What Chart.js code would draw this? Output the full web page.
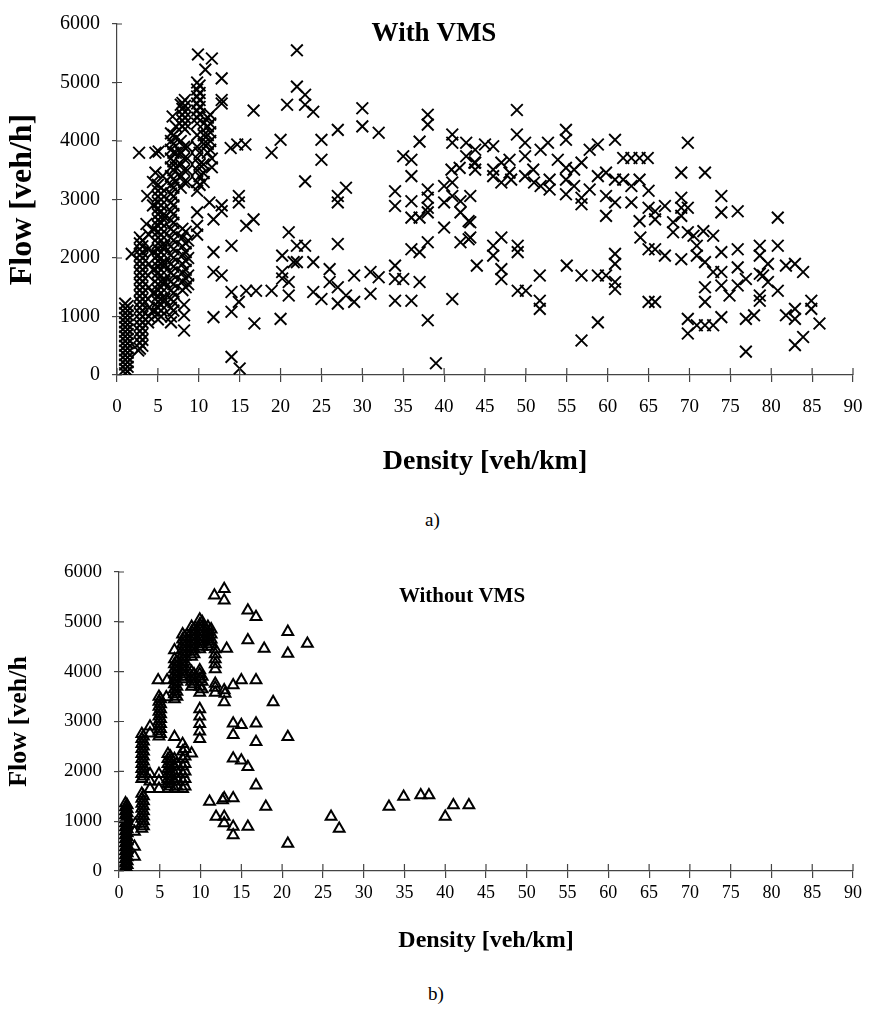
<!DOCTYPE html>
<html>
<head>
<meta charset="utf-8">
<script src="https://cdn.jsdelivr.net/npm/chart.js@4/dist/chart.umd.min.js"></script>
<style>
  body { margin: 0; background: #fff; }
  .wrap { position: absolute; left: 0; width: 870px; }
  .cap { position: absolute; font: 19px "Liberation Serif", serif; color: #000; }
</style>
</head>
<body>
<div class="wrap" style="top:0"><canvas id="chartA" width="870" height="480"></canvas></div>
<div class="cap" style="left:425px; top:509px;">a)</div>
<div class="wrap" style="top:540px"><canvas id="chartB" width="870" height="420"></canvas></div>
<div class="cap" style="left:428px; top:983px;">b)</div>
<script>
// density [veh/km], flow [veh/h] pairs
const withVmsLow = [
  [1,30],[1,100],[1,180],[1,260],[1,340],[1,420],[1,500],[1,580],[1,660],[1,740],[1,820],[1,900],[1,980],[1,1060],[1,1140],[1,1220],
  [1.8,2070],[2.6,420],
  [2.8,450],[2.8,550],[2.8,650],[2.8,750],[2.8,850],[2.8,950],[2.8,1050],[2.8,1150],[2.8,1250],[2.8,1350],[2.8,1450],[2.8,1550],
  [2.8,1650],[2.8,1750],[2.8,1850],[2.8,1950],[2.8,2050],[2.8,2150],[2.8,2250],[2.8,2350],[2.7,3800],
  [3.8,900],[3.9,1000],[3.9,1150],[3.8,1300],[3.9,1500],[3.8,1700],[3.9,1900],[3.8,2150],[3.9,2400],[3.6,2580],[3.7,3060],
  [4.7,3800],[4.7,3460],[5.1,3820],
  [5,950],[5,1050],[5,1150],[5,1250],[5,1350],[5,1450],[5,1550],[5,1650],[5,1750],[5,1850],[5,1950],[5,2050],
  [5,2150],[5,2250],[5,2350],[5,2450],[5,2550],[5,2650],[5,2750],[5,2850],[5,2950],[5,3050],[5,3150],[5,3250],
  [5.8,1300],[5.8,1600],[5.8,1900],[5.8,2200],[5.8,2700],[5.6,3400],
  [6.6,900],[6.6,1000],[6.6,1150],[6.6,1300],[6.6,1450],[6.6,1600],[6.6,1750],[6.6,1900],[6.6,2050],[6.6,2200],[6.6,2350],[6.6,2500],
  [6.6,2650],[6.6,2800],[6.6,2950],[6.6,3100],[6.6,3250],[6.6,3400],[6.6,3550],[6.6,3700],[6.6,3850],[6.6,4000],[6.6,4130],[6.8,4420],
  [7.2,3300],[7.2,3550],[7.2,3800],[7.2,4050],[7.2,4250],
  [7.8,4620],[8.3,4700],[8.3,4600],[8.3,4500],[8.3,4400],[8.3,4300],[8.3,4200],
  [7.8,4000],[7.8,3800],[7.8,3600],[7.8,3400],[7.8,3200],[8.6,3900],[8.6,3700],[8.6,3500],[8.6,3300],
  [8,2500],[8,2350],[8,2200],[8,2050],[8,1900],[8,1750],[8,1600],[8,1450],[8.7,2300],[8.7,2000],[8.7,1700],[8.7,1550],
  [8.2,1200],[8.2,1020],[8.2,760],
  [9.9,5480],[9.8,5000],[9.8,4880],[9.8,4760],[9.8,4640],[9.8,4520],[9.8,4400],[9.8,4300],[9.8,4100],[9.8,3900],[9.8,3700],
  [9.8,3500],[9.8,3300],[9.8,3150],[9.8,2780],[9.8,2550],[9.8,2400],
  [10.8,5220],[10.6,4300],[10.6,4100],[10.6,3950],[10.6,3600],[10.6,3450],[10.6,3300],
  [11.6,5410],[11.4,4450],[11.4,4300],[11.4,4150],[11.4,4000],[11.4,3850],[11.6,3700],[11.6,3550],
  [11.3,2950],[11.8,2660],[11.8,2100],[11.8,1760],[11.8,990],
  [12.8,5070],[12.8,4700],[12.8,4640],[12.8,2900],[12.8,2800],[12.8,1700]
];
const withVmsFill = [
  [1.3,60],[1.3,140],[1.3,220],[1.3,300],[1.3,380],[1.3,460],[1.3,540],[1.3,620],[1.3,700],[1.3,780],[1.3,860],[1.3,940],
  [1.3,1020],[1.3,1100],[1.3,1180],
  [3.1,500],[3.1,600],[3.1,700],[3.1,800],[3.1,900],[3.1,1000],[3.1,1100],[3.1,1200],[3.1,1300],[3.1,1400],[3.1,1500],
  [3.1,1600],[3.1,1700],[3.1,1800],[3.1,1900],[3.1,2000],[3.1,2100],[3.1,2200],[3.1,2300],
  [4.4,1100],[4.4,1400],[4.4,1800],[4.4,2100],[4.4,2500],[4.4,2900],[4.4,3300],
  [5.4,1000],[5.4,1100],[5.4,1200],[5.4,1300],[5.4,1400],[5.4,1500],[5.4,1600],[5.4,1700],[5.4,1800],[5.4,1900],[5.4,2000],
  [5.4,2100],[5.4,2200],[5.4,2300],[5.4,2400],[5.4,2500],[5.4,2600],[5.4,2700],[5.4,2800],[5.4,2900],[5.4,3000],[5.4,3100],[5.4,3200],
  [6.9,1100],[6.9,1250],[6.9,1400],[6.9,1550],[6.9,1700],[6.9,1850],[6.9,2000],[6.9,2150],[6.9,2300],[6.9,2450],[6.9,2600],
  [6.9,2750],[6.9,2900],[6.9,3050],[6.9,3200],[6.9,3350],[6.9,3500],[6.9,3650],[6.9,3800],[6.9,3950],[6.9,4100],
  [8,4650],[8,4550],[8,4450],[8,4350],[8,4250],[8.2,3900],[8.2,3700],[8.2,3500],[8.2,3300],
  [8.4,2450],[8.4,2250],[8.4,2100],[8.4,1950],[8.4,1800],[8.4,1650],[8.4,1500],
  [10.1,4950],[10.1,4820],[10.1,4700],[10.1,4580],[10.1,4460],[10.1,3800],[10.1,3600],[10.1,3400],[10.1,3250],
  [11.1,4400],[11.1,4250],[11.1,4100],[11.1,3950],[11.1,3800]
];
const withVmsMid = [
  [13.9,3880],[14.7,3940],[15.7,3940],[14.9,3060],[14.9,2950],[15.8,2550],[16.7,2660],[16.7,4520],[14,2210],[14,1420],
  [14,1080],[14.9,1250],[15.8,1440],[17,1440],[16.8,880],[14,310],[15,110],
  [18.9,3800],[20,4020],[20.8,4620],[22,5550],[22,4930],[21,2440],[20.2,2040],[20.2,1760],[21,1590],[20.2,1650],
  [21,1360],[18.9,1440],[20,960],[21.6,1930],
  [23,4790],[23,4620],[24,4500],[25,4020],[25,3680],[23,3310],[27,4190],[30,4560],[30,4250],[32,4140],[27,3060],[27,2950],[28,3200],
  [22,2210],[23,2210],[22,1930],[27,2240],[24,1930],[26,1810],[26,1590],[27,1500],[25,1300],[24,1420],[27,1220],[28,1360],
  [29,1250],[29,1700],[31,1760],[32,1670],[31,1390],[34,1870],[34,1640],[35,1640],[34,1270],[36,1270],[37,1590],[38,935],
  [39,200],[41,1300],
  [34,3140],[34,2890],[36,2970],[36,2690],[37,2690],[38,3170],[38,3030],[38,2860],[38,2780],
  [35,3740],[36,3680],[36,3400],[37,3990],[38,4450],[38,4280],
  [36,2150],[37,2100],[38,2270],[40,2520],
  [40,3230],[41,3290],[41,3060],[40,2950],[42,2970],[42,2780],[43,2630],[42,2270],[43,2320],
  [41,4110],[41,3970],[42.7,3970],[42.7,3740],[43.7,3630],[40.9,3510],[41.9,3540]
];
const withVmsHigh = [
  [43.2,3060],[43.2,2610],[43.2,2350],[44,1870],
  [43.8,3850],[45,3940],[46,3910],[43.8,3630],[43.8,3510],[46,3510],[47,3290],[47,3630],[48,3680],[48,3460],[48.2,3340],[46,3400],
  [48.9,4530],[48.9,4110],[49.9,3970],[49.9,3740],[49.9,3400],[50.9,3510],[51,3290],[51.8,3850],[51.8,3230],[52.7,3970],
  [52.9,3340],[52.9,3170],[53.9,3680],[54.9,4190],[54.9,4020],[54.9,3540],[54.9,3340],[54.9,3090],[55.9,3510],[55.9,3230],
  [56.8,3630],[56.8,3030],[56.8,2920],[57.8,3850],[57.8,3170],[58.8,3940],[58.8,3400],[59.8,3460],[59.8,3060],[59.8,2720],
  [60.9,4020],[60.9,3340],[60.9,2950],[61.9,3710],[61.9,3340],[62.9,3710],[62.9,3230],[62.9,2950],[63.9,3710],[63.9,3340],
  [63.9,2630],[64.9,3710],[65,3150],[65,2860],[64,2350],[65,2150],[65,1250],
  [46,2210],[46,2040],[47,2350],[47,1810],[47,1640],[49,2210],[49,2100],[49,1440],[50,1440],[51.7,1700],[51.7,1270],[51.7,1130],
  [55,1870],[56.8,1700],[56.8,590],[58.8,1700],[58.8,900],[59.8,1700],[60.9,2070],[60.9,1900],[60.9,1590],[60.9,1470],
  [65.8,2800],[65.8,2660],[67,2890],[69,3460],[69,3030],[69,2860],[69.8,3970],[69.8,2860],[71.9,3460],[68,2610],[68,2440],
  [69,2720],[69.8,2440],[70.5,2380],[70.9,2210],[71.7,2460],[72.9,2380],[73.9,3060],[73.9,2780],[75.9,2800],
  [65.8,2150],[67,2040],[69,1980],[70.9,2040],[71.9,1930],[72.9,1760],[73.9,2100],[73.9,1760],[73.9,1530],[74.9,1360],
  [75.9,2150],[75.9,1840],[75.9,1530],[76.9,1640],[71.9,1500],[71.9,1250],[65.8,1250],
  [69.8,960],[69.8,710],[70.9,850],[71.9,850],[72.9,850],[73.9,990],[76.9,960],[76.9,400],[77.9,1020],
  [78.6,2210],[78.6,2040],[78.6,1730],[79,1700],[79.6,1900],[79.6,1590],[78.6,1360],[78.6,1270],[80.8,2690],[80.8,2210],
  [80.8,1440],[81.8,1870],[82.9,1900],[83.9,1760],[81.8,1020],[82.9,1130],[82.9,960],[82.9,510],[83.9,650],[84.9,1270],
  [84.9,1130],[85.9,880]
];
const withoutVmsLow = [
  [0.8,0],[0.8,80],[0.8,160],[0.8,240],[0.8,320],[0.8,400],[0.8,480],[0.8,560],[0.8,640],[0.8,720],[0.8,800],[0.8,880],
  [0.8,960],[0.8,1040],[0.8,1120],[0.8,1200],[0.8,1280],[0.8,1360],
  [1.9,290],[1.9,490],[1.9,790],[2,950],
  [2.8,850],[2.8,950],[2.8,1050],[2.8,1150],[2.8,1250],[2.8,1350],[2.8,1450],[2.8,1550],
  [2.8,1850],[2.8,1950],[2.8,2050],[2.8,2150],[2.8,2250],[2.8,2350],[2.8,2450],[2.8,2550],[2.8,2650],[2.8,2750],
  [3.8,2760],[3.8,2900],[3.8,1650],[3.8,1800],[3.8,1950],
  [4.9,2700],[4.9,2800],[4.9,2900],[4.9,3000],[4.9,3100],[4.9,3200],[4.9,3300],[4.9,3400],[4.9,3500],[4.9,1650],[4.9,1800],
  [4.9,1950],[4.8,3830],
  [6,1650],[6,1750],[6,1850],[6,1950],[6,2050],[6,2150],[6,2250],[6,2350],[5.9,3830],[5.8,3490],
  [6.8,3450],[6.8,3550],[6.8,3650],[6.8,3750],[6.8,3850],[6.8,3950],[6.8,4050],[6.8,4150],[6.8,4250],[6.8,4430],
  [6.8,1650],[6.8,1800],[6.8,1950],[6.8,2100],[6.8,2250],[6.8,2690],
  [7.8,3850],[7.8,3950],[7.8,4050],[7.8,4150],[7.8,4250],[7.8,4350],[7.8,4450],[7.8,4550],[7.8,4650],[7.8,4750],
  [7.8,1650],[7.8,1800],[7.8,1950],[7.8,2100],[7.8,2250],[7.8,2400],[7.8,2550],
  [8.9,4300],[8.9,4400],[8.9,4500],[8.9,4600],[8.9,4700],[8.9,4800],[8.9,4900],[8.9,3700],[8.9,3800],[8.9,3900],[8.9,4000],[8.9,2360],
  [9.9,4450],[9.9,4550],[9.9,4650],[9.9,4750],[9.9,4850],[9.9,4950],[9.9,5050],[9.9,3580],[9.9,3700],[9.9,3850],[9.9,3950],
  [9.9,4030],[9.9,2650],[9.9,2800],[9.9,2950],[9.9,3100],[9.9,3250],
  [10.9,4500],[10.9,4600],[10.9,4700],[10.9,4800],[10.9,4900],
  [11.8,4050],[11.8,4150],[11.8,4250],[11.8,4350],[11.8,4450],[11.8,3580],[11.8,3680],[11.8,3760]
];
const withoutVmsFill = [
  [1,40],[1,120],[1,200],[1,280],[1,360],[1,440],[1,520],[1,600],[1,680],[1,760],[1,840],[1,920],[1,1000],[1,1080],
  [1,1160],[1,1240],[1,1320],
  [3,900],[3,1000],[3,1100],[3,1200],[3,1300],[3,1400],[3,1500],[3,1900],[3,2000],[3,2100],[3,2200],[3,2300],[3,2400],
  [3,2500],[3,2600],[3,2700],
  [5.1,2750],[5.1,2850],[5.1,2950],[5.1,3050],[5.1,3150],[5.1,3250],[5.1,3350],[5.1,3450],
  [6.3,1700],[6.3,1800],[6.3,1900],[6.3,2000],[6.3,2100],[6.3,2200],[6.3,2300],
  [7.1,3500],[7.1,3600],[7.1,3700],[7.1,3800],[7.1,3900],[7.1,4000],[7.1,4100],[7.1,4200],[7.1,1700],[7.1,1850],[7.1,2000],[7.1,2150],
  [8.1,3900],[8.1,4000],[8.1,4100],[8.1,4200],[8.1,4300],[8.1,4400],[8.1,4500],[8.1,4600],[8.1,4700],
  [8.1,1700],[8.1,1850],[8.1,2000],[8.1,2150],[8.1,2300],[8.1,2450],
  [9.2,4350],[9.2,4450],[9.2,4550],[9.2,4650],[9.2,4750],[9.2,4850],[9.2,3750],[9.2,3850],[9.2,3950],
  [10.2,4500],[10.2,4600],[10.2,4700],[10.2,4800],[10.2,4900],[10.2,5000],[10.2,3650],[10.2,3800],[10.2,3900],
  [11.3,4550],[11.3,4650],[11.3,4750],[11.3,4850]
];
const withoutVmsHigh = [
  [12.9,5660],[11.7,5530],[12.9,5430],[13.2,4460],[12.9,3630],[13,3560],[12.9,3390],
  [11.1,1390],[12.7,1420],[12.9,1460],[11.9,1090],[12.9,1090],[12.9,960],
  [14,3730],[14,2960],[14,2730],[14,2260],[14,1460],[14,890],[14,720],
  [15,3830],[15,2930],[15,2220],
  [15.8,5230],[15.8,4630],[15.8,2090],[15.8,890],
  [16.8,5100],[16.8,3830],[16.8,2960],[16.8,2590],[16.8,1720],
  [17.8,4460],[18,1290],[18.9,3390],
  [20.7,4800],[20.7,4360],[20.7,2690],[20.7,550],
  [23.1,4560],[26,1090],[27,850],[33.1,1290],[34.9,1490],[37,1520],[38,1520],[40,1090],[41,1320],[42.9,1320]
];
const densityTicks = { min: 0, max: 90, step: 5 };
const flowTicks = { min: 0, max: 6000, step: 1000 };

const axisColor = '#444';
const serif = '"Liberation Serif", "Times New Roman", serif';

// inward half of the tick marks plus the title that sits inside the plot
const innerTitle = {
  id: 'innerTitle',
  afterDraw(chart, args, opts) {
    const { ctx, chartArea, scales: { x, y } } = chart;
    ctx.save();
    ctx.strokeStyle = axisColor;
    ctx.lineWidth = 1.2;
    ctx.beginPath();
    x.ticks.forEach((t, i) => {
      const px = x.getPixelForTick(i);
      ctx.moveTo(px, chartArea.bottom);
      ctx.lineTo(px, chartArea.bottom - 7);
    });
    y.ticks.forEach((t, i) => {
      const py = y.getPixelForTick(i);
      ctx.moveTo(chartArea.left, py);
      ctx.lineTo(chartArea.left + 5, py);
    });
    ctx.stroke();
    ctx.font = opts.font;
    ctx.fillStyle = '#000';
    ctx.textAlign = 'center';
    ctx.textBaseline = 'middle';
    ctx.fillText(opts.text, opts.x, opts.y);
    ctx.restore();
  }
};

function makeChart(id, points, cfg) {
  return new Chart(document.getElementById(id), {
    type: 'scatter',
    data: {
      datasets: [{
        data: points.map(([d, f]) => ({ x: d, y: f })),
        pointStyle: cfg.marker,
        radius: cfg.radius,
        borderColor: '#000',
        borderWidth: cfg.markerWidth,
        backgroundColor: 'rgba(0,0,0,0)'
      }]
    },
    options: {
      responsive: false,
      animation: false,
      layout: { padding: { top: cfg.top, right: 17, left: 0, bottom: 0 } },
      plugins: {
        legend: { display: false },
        tooltip: { enabled: false },
        innerTitle: cfg.title
      },
      scales: {
        x: {
          type: 'linear',
          min: densityTicks.min,
          max: densityTicks.max,
          ticks: {
            stepSize: densityTicks.step, color: '#000', padding: cfg.xTickPad,
            font: { family: serif, size: cfg.xTickSize },
            callback: v => String(v)
          },
          grid: { drawOnChartArea: false, tickLength: 7, color: axisColor, lineWidth: 1.2 },
          border: { color: axisColor, width: 1.2 },
          title: {
            display: true,
            text: 'Density [veh/km]',
            color: '#000',
            font: { family: serif, size: cfg.xTitleSize, weight: 'bold' },
            padding: { top: 0, bottom: cfg.xTitlePad }
          },
          afterFit(s) {
            s.height = cfg.xHeight;
            s.paddingLeft = 0;
            s.paddingRight = 0;
          }
        },
        y: {
          type: 'linear',
          min: flowTicks.min,
          max: flowTicks.max,
          ticks: {
            stepSize: flowTicks.step, color: '#000', padding: 12,
            font: { family: serif, size: cfg.yTickSize },
            callback: v => String(v)
          },
          grid: { drawOnChartArea: false, tickLength: 5, color: axisColor, lineWidth: 1.2 },
          border: { color: axisColor, width: 1.2 },
          title: {
            display: true,
            text: cfg.yTitle,
            color: '#000',
            font: { family: serif, size: cfg.yTitleSize, weight: 'bold' },
            padding: { top: cfg.yTitlePad, bottom: 0 }
          },
          afterFit(s) { s.width = cfg.yWidth; }
        }
      }
    },
    plugins: [innerTitle]
  });
}

document.addEventListener('DOMContentLoaded', () => {
  makeChart('chartA', withVmsLow.concat(withVmsFill, withVmsMid, withVmsHigh), {
    marker: 'crossRot', radius: 8.3, markerWidth: 1.9,
    top: 22, xHeight: 105, yWidth: 117,
    xTickSize: 19, xTickPad: 14, yTickSize: 20,
    xTitleSize: 28, xTitlePad: 1, yTitle: 'Flow [veh/h]', yTitleSize: 32, yTitlePad: 4,
    title: { text: 'With VMS', font: 'bold 27px ' + serif, x: 434, y: 34 }
  });
  makeChart('chartB', withoutVmsLow.concat(withoutVmsFill, withoutVmsHigh), {
    marker: 'triangle', radius: 6.2, markerWidth: 2,
    top: 32, xHeight: 89, yWidth: 119,
    xTickSize: 18, xTickPad: 4, yTickSize: 19,
    xTitleSize: 24, xTitlePad: 5, yTitle: 'Flow [veh/h', yTitleSize: 26, yTitlePad: 4,
    title: { text: 'Without VMS', font: 'bold 21px ' + serif, x: 462, y: 57 }
  });
});
</script>
</body>
</html>
